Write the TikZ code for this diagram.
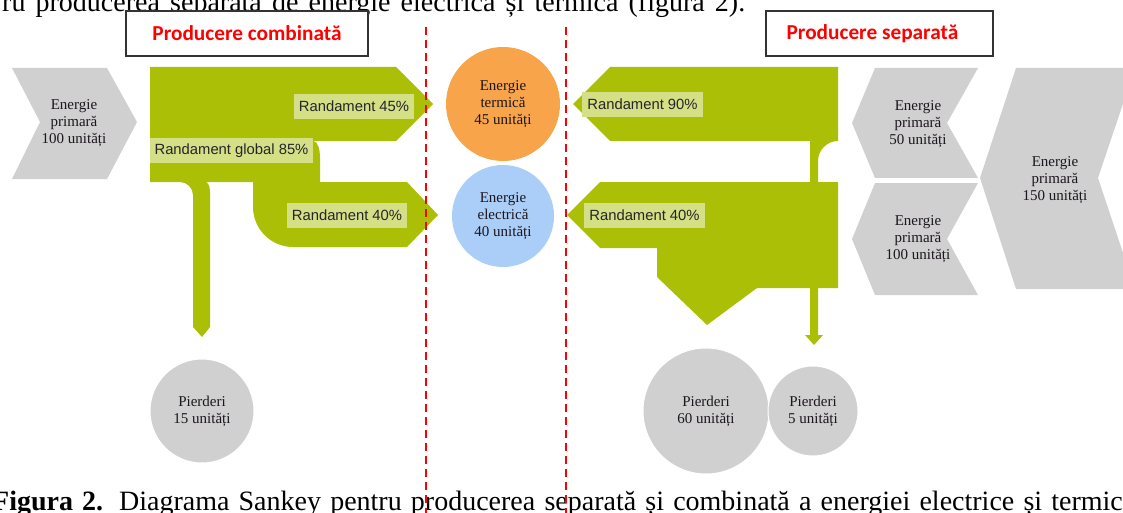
\documentclass[tikz,border=0pt]{standalone}
\usepackage{fontspec}
\setmainfont{Liberation Serif}
\newfontfamily\arialfont{Liberation Sans}
\newfontfamily\calibrifont{Carlito}
\usetikzlibrary{positioning,calc}

\definecolor{flowgreen}{RGB}{170,191,5}
\definecolor{labelgreen}{RGB}{212,223,134}
\definecolor{primgrey}{RGB}{208,208,208}
\definecolor{heatorange}{RGB}{247,164,74}
\definecolor{elecblue}{RGB}{170,206,247}
\definecolor{inkdark}{RGB}{28,22,30}

\begin{document}
\begin{tikzpicture}[x=1pt,y=-1pt]

  \tikzstyle{every node}=[font=\fontsize{15}{17}\selectfont, text=inkdark]

  \tikzset{flow/.style={fill=flowgreen},
    primary/.style={fill=primgrey},
    efficiency/.style={fill=labelgreen, text=black!85, inner xsep=5pt, inner ysep=0pt,
      minimum height=25pt, font=\arialfont\fontsize{14.8}{17}\selectfont},
    energy/.style={circle, inner sep=0pt, align=center},
    loss/.style={energy, fill=primgrey, draw=white, line width=1pt},
    header/.style={draw=black!80, line width=1.3pt, fill=white, minimum height=45pt,
      text=red, font=\calibrifont\bfseries\fontsize{21.3}{25}\selectfont},
    divider/.style={red, line width=1.8pt, dash pattern=on 8pt off 5pt},
    doctext/.style={anchor=base west, inner sep=0pt, text=black,
      font=\fontsize{28}{32}\selectfont}}

  \useasboundingbox (0,0) rectangle (1123,513);

  % Text of the page around the figure
  \node[doctext] (intro) at (2,12)
    {\makebox[743pt][s]{ru producerea separată de energie electrică și termică (figura 2).}};
  \node[doctext] (caption) at (-8,510)
    {\makebox[1150pt][s]{\textbf{Figura 2.} Diagrama Sankey pentru producerea separată și combinată a energiei electrice și termice.}};

  % Headings
  \node[header, minimum width=242pt] (combined) at (247,33.5) {Producere combinată};
  \node[header, minimum width=227pt] (separate) at (879.5,33.5) {\hspace*{-14pt}Producere separată};

  % Combined production: primary energy
  \fill[primary] (12,68) -- (107,68) -- (137,122) -- (107,179) -- (12,179) -- (40,122) -- cycle;
  \node[align=center] (in100) at (74,123) {Energie\\primară\\100 unități};

  % Combined production: flows
  \fill[flow] (150,67) -- (396,67) -- (433,104) -- (396,141) -- (313,141)
    .. controls (318,141) and (320,150) .. (320,157) -- (320,182)
    -- (407,182) -- (438,215) -- (407,247) -- (293,247)
    .. controls (271,247) and (253,229) .. (253,207) -- (253,182)
    -- (205,182) .. controls (208,182) and (210,186) .. (210,192)
    -- (210,327) -- (202,337) -- (193,327) -- (193,195)
    .. controls (193,188) and (187,182) .. (180,182) -- (150,182) -- cycle;
  \node[efficiency] (eta45) at (354,106.5) {Randament 45\%};
  \node[efficiency] (etaglobal) at (231.5,150.5) {Randament global 85\%};
  \node[efficiency] (eta40c) at (347,215) {Randament 40\%};

  % Useful energy
  \node[energy, fill=heatorange, minimum size=114pt] (heat) at (503,104) {Energie\\termică\\45 unități};
  \node[energy, fill=elecblue, minimum size=102pt] (elec) at (503,216) {Energie\\electrică\\40 unități};

  % Separate production: flows
  \fill[flow] (610,67) -- (838,67) -- (838,141)
    .. controls (827,141) and (818,150) .. (818,161) -- (818,182)
    -- (838,182) -- (838,288) -- (818,288) -- (818,335) -- (823,335)
    -- (814,345) -- (805,335) -- (810,335) -- (810,288) -- (757,288)
    -- (707,325) -- (657,277) -- (657,248) -- (600,248) -- (567,215)
    -- (600,182) -- (810,182) -- (810,141) -- (610,141) -- (573,104) -- cycle;
  \node[efficiency] (eta90) at (642.5,104.5) {Randament 90\%};
  \node[efficiency] (eta40s) at (644.5,215) {Randament 40\%};

  % Separate production: primary energy
  \fill[primary] (875,68) -- (978,68) -- (947,123) -- (978,178) -- (875,178) -- (852,123) -- cycle;
  \node[align=center] (in50) at (918,124) {Energie\\primară\\50 unități};
  \fill[primary] (875,183) -- (978,183) -- (947,239) -- (978,295) -- (875,295) -- (852,239) -- cycle;
  \node[align=center] (in100s) at (918,239) {Energie\\primară\\100 unități};
  \fill[primary] (1016,68) -- (1135,68) -- (1098,178) -- (1135,289) -- (1016,289) -- (980,178) -- cycle;
  \node[align=center] (in150) at (1055,180) {Energie\\primară\\150 unități};

  % Losses
  \node[loss, minimum size=104pt] (loss15) at (202,411) {Pierderi\\15 unități};
  \node[loss, minimum size=126pt] (loss60) at (706,411) {Pierderi\\60 unități};
  \node[loss, minimum size=90pt, right=-2pt of loss60] (loss5) {Pierderi\\5 unități};

  % Dashed lines between the two productions
  \coordinate (cut combined) at (426,27);
  \coordinate (cut separate) at (566,27);
  \draw[divider] (cut combined) -- ($(cut combined) + (0,486)$);
  \draw[divider] (cut separate) -- ($(cut separate) + (0,486)$);

\end{tikzpicture}
\end{document}
